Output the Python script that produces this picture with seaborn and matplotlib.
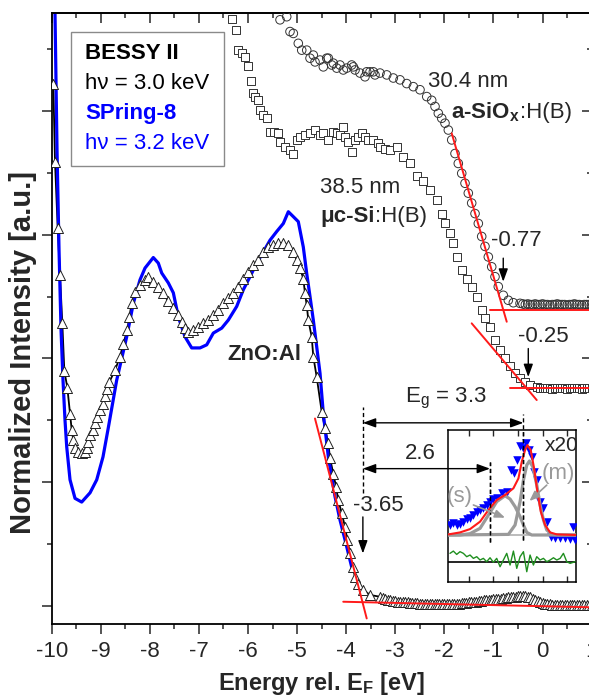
import numpy as np
import pandas as pd
import matplotlib
matplotlib.use("Agg")
import matplotlib.pyplot as plt
import seaborn as sns
from matplotlib.patches import Rectangle
from matplotlib.ticker import MultipleLocator, NullFormatter
from matplotlib.transforms import offset_copy

# ---------------- data ----------------
# SPring-8 ZnO:Al spectrum (blue line)
blue_x = [-9.95, -9.933, -9.892, -9.851, -9.810, -9.770, -9.729, -9.694, -9.627, -9.525, -9.389, -9.219,
          -9.083, -8.955, -8.847, -8.676, -8.472, -8.337, -8.201, -8.099, -7.930, -7.828, -7.759, -7.624,
          -7.522, -7.420, -7.284, -7.148, -6.978, -6.842, -6.707, -6.536, -6.402, -6.231, -6.096, -5.960,
          -5.823, -5.689, -5.552, -5.416, -5.281, -5.179, -5.077, -4.976, -4.874, -4.804, -4.737, -4.670,
          -4.601, -4.533, -4.466, -4.364, -4.228, -4.126, -4.024, -3.888]
blue_y = [10.0, 9.58, 7.37, 5.75, 4.46, 3.65, 3.00, 2.57, 2.04, 1.74, 1.68, 1.83,
          2.04, 2.41, 2.88, 3.65, 4.35, 4.89, 5.27, 5.46, 5.63, 5.54, 5.38, 5.22,
          5.06, 4.67, 4.35, 4.17, 4.17, 4.22, 4.41, 4.49, 4.62, 4.84, 5.11, 5.32,
          5.54, 5.72, 5.91, 6.05, 6.18, 6.37, 6.29, 6.21, 5.80, 5.37, 5.00, 4.62,
          4.19, 3.76, 3.11, 2.41, 1.77, 1.39, 1.07, 0.63]

# BESSY II ZnO:Al spectrum (open triangles)
tri_x = [-9.967, -9.933, -9.878, -9.831, -9.784, -9.743, -9.682, -9.627, -9.593, -9.560,
         -9.525, -9.458, -9.389, -9.322, -9.287, -9.254, -9.219, -9.165, -9.118, -9.071,
         -9.016, -8.961, -8.914, -8.879, -8.826, -8.710, -8.608, -8.541, -8.460, -8.419,
         -8.370, -8.303, -8.201, -8.099, -8.032, -7.930, -7.828, -7.726, -7.624, -7.522,
         -7.420, -7.351, -7.284, -7.217, -7.115, -7.013, -6.911, -6.809, -6.707, -6.606,
         -6.504, -6.402, -6.300, -6.198, -6.096, -5.994, -5.892, -5.791, -5.689, -5.587,
         -5.485, -5.383, -5.281, -5.179, -5.077, -5.008, -4.941, -4.874, -4.839, -4.804,
         -4.772, -4.703, -4.670, -4.601, -4.499, -4.432, -4.364, -4.330, -4.262, -4.207,
         -4.161, -4.091, -4.024, -3.977, -3.922, -3.867, -3.820, -3.753, -3.651, -3.515,
         -3.311]
tri_y = [8.43, 7.17, 6.11, 5.35, 4.57, 3.80, 3.53, 3.10, 2.85, 2.68,
         2.55, 2.49, 2.48, 2.49, 2.55, 2.65, 2.76, 2.84, 2.95, 3.06,
         3.17, 3.27, 3.39, 3.50, 3.62, 3.81, 4.03, 4.24, 4.46, 4.67,
         4.89, 5.08, 5.19, 5.27, 5.32, 5.24, 5.16, 5.05, 4.92, 4.81,
         4.70, 4.59, 4.49, 4.43, 4.46, 4.51, 4.57, 4.62, 4.70, 4.78,
         4.89, 4.97, 5.05, 5.16, 5.29, 5.40, 5.51, 5.59, 5.72, 5.80,
         5.83, 5.86, 5.87, 5.83, 5.72, 5.59, 5.46, 5.29, 5.05, 4.86,
         4.62, 4.35, 4.03, 3.70, 3.14, 2.87, 2.63, 2.39, 2.14, 1.93,
         1.71, 1.50, 1.28, 1.07, 0.85, 0.63, 0.47, 0.36, 0.26, 0.18,
         0.15]
tri_base_x = [-3.25, -3.20, -3.15, -3.10, -3.05, -3.00, -2.95, -2.90, -2.85, -2.80,
              -2.75, -2.70, -2.65, -2.60, -2.55, -2.50, -2.45, -2.40, -2.35, -2.30,
              -2.25, -2.20, -2.15, -2.10, -2.05, -2.00, -1.95, -1.90, -1.85, -1.80,
              -1.75, -1.70, -1.65, -1.60, -1.55, -1.50, -1.45, -1.40, -1.35, -1.30,
              -1.25, -1.20, -1.15, -1.10, -1.05, -1.00, -0.95, -0.90, -0.85, -0.80,
              -0.75, -0.70, -0.65, -0.60, -0.55, -0.50, -0.45, -0.40, -0.35, -0.30,
              -0.25, -0.20, -0.15, -0.10, -0.05, 0.00, 0.05, 0.10, 0.15, 0.20,
              0.25, 0.30, 0.35, 0.40, 0.45, 0.50, 0.55, 0.60, 0.65, 0.70,
              0.75, 0.80, 0.85, 0.90, 0.95, 1.00]
tri_base_y = [0.13, 0.11, 0.10, 0.09, 0.08, 0.08, 0.07, 0.07, 0.06, 0.06,
              0.06, 0.05, 0.05, 0.05, 0.05, 0.04, 0.04, 0.04, 0.04, 0.03,
              0.03, 0.03, 0.03, 0.03, 0.03, 0.03, 0.03, 0.03, 0.04, 0.04,
              0.04, 0.04, 0.05, 0.05, 0.05, 0.06, 0.06, 0.07, 0.07, 0.08,
              0.08, 0.09, 0.09, 0.10, 0.10, 0.11, 0.11, 0.12, 0.12, 0.13,
              0.13, 0.14, 0.14, 0.15, 0.15, 0.16, 0.16, 0.16, 0.16, 0.15,
              0.14, 0.12, 0.10, 0.08, 0.06, 0.05, 0.04, 0.03, 0.03, 0.02,
              0.02, 0.02, 0.02, 0.02, 0.02, 0.02, 0.02, 0.02, 0.02, 0.02,
              0.02, 0.02, 0.02, 0.02, 0.02, 0.02]

# muc-Si:H(B) 38.5 nm (open squares)
sq_x = [-6.333, -6.245, -6.198, -6.129, -6.062, -5.994, -5.945, -5.892, -5.858, -5.791,
        -5.756, -5.689, -5.607, -5.552, -5.471, -5.383, -5.348, -5.247, -5.145, -5.077,
        -5.008, -4.941, -4.839, -4.737, -4.635, -4.533, -4.466, -4.364, -4.262, -4.193,
        -4.126, -4.059, -4.024, -3.957, -3.888, -3.820, -3.753, -3.684, -3.617, -3.549,
        -3.447, -3.346, -3.311, -3.210, -3.107, -2.971, -2.836, -2.700, -2.563, -2.429, -2.292,
        -2.156, -2.054, -1.987, -1.885, -1.817, -1.748, -1.646, -1.544, -1.443, -1.341,
        -1.239, -1.172, -1.070, -0.968, -0.866, -0.764, -0.662, -0.560, -0.458, -0.356,
        -0.255, -0.118]
sq_y = [9.49, 9.31, 8.99, 8.93, 8.87, 8.72, 8.48, 8.28, 8.23, 8.17,
        8.01, 7.93, 7.88, 7.66, 7.65, 7.64, 7.50, 7.42, 7.37, 7.31,
        7.53, 7.58, 7.61, 7.64, 7.69, 7.61, 7.64, 7.53, 7.66, 7.64,
        7.61, 7.74, 7.58, 7.50, 7.34, 7.53, 7.58, 7.64, 7.58, 7.53,
        7.53, 7.48, 7.42, 7.39, 7.37, 7.42, 7.26, 7.15, 6.94, 6.86, 6.72,
        6.56, 6.34, 6.18, 6.02, 5.86, 5.64, 5.43, 5.29, 5.16, 5.00,
        4.78, 4.65, 4.51, 4.30, 4.14, 4.00, 3.87, 3.76, 3.68, 3.62,
        3.57, 3.54]
sq_base_x = [-0.05, 0.00, 0.05, 0.10, 0.15, 0.20, 0.25, 0.30, 0.35, 0.40, 0.45,
             0.50, 0.55, 0.60, 0.65, 0.70, 0.75, 0.80, 0.85, 0.90, 0.95, 1.00]
sq_base_y = [3.53, 3.52, 3.52, 3.53, 3.52, 3.51, 3.52, 3.52, 3.53, 3.52, 3.52,
             3.51, 3.52, 3.52, 3.53, 3.52, 3.52, 3.51, 3.52, 3.52, 3.52, 3.52]

# a-SiOx:H(B) 30.4 nm (open circles)
ci_x = [-5.348, -5.212, -5.145, -5.077, -4.976, -4.906, -4.804, -4.737, -4.670, -4.635,
        -4.533, -4.466, -4.397, -4.364, -4.295, -4.262, -4.193, -4.126, -4.059, -3.989,
        -3.888, -3.855, -3.820, -3.718, -3.617, -3.582, -3.515, -3.447, -3.413, -3.311,
        -3.174, -3.040, -2.903, -2.767, -2.632, -2.496, -2.359, -2.258, -2.190, -2.123,
        -2.054, -1.987, -1.919, -1.850, -1.783, -1.716, -1.646, -1.579, -1.512, -1.443,
        -1.375, -1.308, -1.239, -1.172, -1.104, -1.035, -0.968, -0.901, -0.799, -0.697,
        -0.595, -0.458]
ci_y = [9.47, 9.52, 9.28, 9.25, 9.09, 8.98, 8.98, 8.85, 8.90, 8.79,
        8.82, 8.71, 8.85, 8.85, 8.74, 8.77, 8.69, 8.74, 8.66, 8.69,
        8.74, 8.71, 8.66, 8.61, 8.55, 8.63, 8.63, 8.63, 8.58, 8.61,
        8.58, 8.53, 8.50, 8.44, 8.39, 8.34, 8.23, 8.17, 8.07, 7.96,
        7.88, 7.80, 7.69, 7.53, 7.31, 7.15, 6.99, 6.83, 6.67, 6.51,
        6.34, 6.18, 5.97, 5.81, 5.64, 5.48, 5.32, 5.16, 5.02, 4.94,
        4.90, 4.89]
ci_base_x = [-0.40, -0.35, -0.30, -0.25, -0.20, -0.15, -0.10, -0.05, 0.00, 0.05,
             0.10, 0.15, 0.20, 0.25, 0.30, 0.35, 0.40, 0.45, 0.50, 0.55,
             0.60, 0.65, 0.70, 0.75, 0.80, 0.85, 0.90, 0.95, 1.00]
ci_base_y = [4.88, 4.87, 4.88, 4.87, 4.87, 4.88, 4.87, 4.87, 4.88, 4.87,
             4.87, 4.86, 4.87, 4.87, 4.88, 4.87, 4.87, 4.87, 4.86, 4.87,
             4.87, 4.88, 4.87, 4.87, 4.86, 4.87, 4.87, 4.87, 4.87]

# linear extrapolation lines (red): [x_start, x_end], [y_start, y_end]
zno_edge_x, zno_edge_y = [-4.636, -3.582], [3.03, -0.20]
zno_bg_x, zno_bg_y = [-4.06, 1.0], [0.07, -0.02]
asi_edge_x, asi_edge_y = [-1.850, -0.729], [7.636, 4.593]
asi_bg_x, asi_bg_y = [-1.07, 1.0], [4.79, 4.79]
mcs_edge_x, mcs_edge_y = [-1.443, -0.118], [4.567, 3.328]
mcs_bg_x, mcs_bg_y = [-0.66, 1.0], [3.52, 3.52]

# onsets / gaps
onset_labels = ["-0.77", "-0.25", "-3.65"]
eg_value = 3.3
gap2_value = 2.6

# inset (x20 magnified gap states)
ins_data_x = [-1.884, -1.816, -1.748, -1.681, -1.613, -1.545, -1.477, -1.409, -1.341, -1.273,
              -1.205, -1.137, -1.069, -1.001, -0.933, -0.832, -0.730, -0.648, -0.580, -0.512,
              -0.458, -0.390, -0.336, -0.281, -0.220, -0.166, -0.105, -0.051, 0.018, 0.085,
              0.167, 0.255, 0.357, 0.459, 0.561, 0.629, 0.663]
ins_data_y = [3.74, 3.85, 3.74, 3.78, 3.96, 4.11, 4.22, 4.40, 4.57, 4.73,
              4.88, 5.06, 5.23, 5.45, 5.54, 5.83, 5.94, 7.36, 7.14, 8.02,
              8.97, 8.79, 9.12, 8.68, 8.24, 7.25, 6.70, 5.28, 4.84, 3.96,
              2.97, 2.86, 2.90, 2.86, 2.81, 3.63, 2.75]
ins_fit_x = [-1.918, -1.681, -1.477, -1.273, -1.103, -0.933, -0.764, -0.594, -0.492, -0.424,
             -0.356, -0.309, -0.241, -0.173, -0.105, -0.037, 0.051, 0.153, 0.289, 0.683]
ins_fit_y = [3.12, 3.25, 3.47, 3.96, 4.73, 5.39, 5.72, 6.16, 6.81, 7.91,
             8.68, 9.01, 8.68, 7.47, 5.94, 4.62, 3.74, 3.25, 3.12, 3.08]
ins_s_x = [-1.918, -1.681, -1.477, -1.273, -1.069, -0.933, -0.764, -0.662, -0.560, -0.458,
           -0.390, -0.322, -0.220, 0.683]
ins_s_y = [3.08, 3.08, 3.17, 3.52, 4.57, 5.28, 5.67, 5.45, 4.95, 4.29,
           3.74, 3.25, 3.08, 3.08]
ins_m_x = [-1.918, -0.696, -0.560, -0.458, -0.390, -0.322, -0.268, -0.200, -0.118, -0.051,
           0.018, 0.085, 0.187, 0.323, 0.683]
ins_m_y = [3.08, 3.12, 3.74, 5.28, 6.70, 7.69, 7.96, 7.58, 6.37, 5.06,
           4.07, 3.41, 3.12, 3.08, 3.08]
ins_res_x = [-1.885, -1.817, -1.749, -1.681, -1.613, -1.545, -1.477, -1.409, -1.341, -1.273,
             -1.206, -1.138, -1.070, -1.002, -0.934, -0.866, -0.798, -0.730, -0.662, -0.594,
             -0.526, -0.458, -0.390, -0.322, -0.255, -0.187, -0.119, -0.051, 0.017, 0.085,
             0.153, 0.221, 0.289, 0.357, 0.424, 0.492, 0.560, 0.662]
ins_res_y = [1.87, 2.02, 1.80, 1.98, 1.87, 1.65, 1.76, 1.54, 1.65, 1.43,
             1.54, 1.32, 1.58, 1.28, 1.54, 0.99, 1.43, 1.87, 1.10, 2.02,
             0.88, 1.65, 1.98, 0.66, 1.76, 1.10, 1.65, 1.43, 1.54, 1.32,
             1.43, 1.58, 1.43, 1.54, 1.87, 1.32, 1.21, 1.32]
ins_zero_y = 1.32
ins_base_y = 3.08
s_pos, m_pos = -1.07, -0.39
onset_zno = -3.66

x_ticks = list(range(-10, 2))

# ---------------- style ----------------
sns.set_theme(style="ticks")
plt.rcParams["font.family"] = ["Liberation Sans", "DejaVu Sans"]
plt.rcParams["mathtext.fontset"] = "custom"
plt.rcParams["mathtext.rm"] = "Liberation Sans"
plt.rcParams["mathtext.bf"] = "Liberation Sans:bold"
plt.rcParams["mathtext.it"] = "Liberation Sans:italic"
plt.rcParams["axes.unicode_minus"] = False

FS = 16
BLUE = "#0000ff"
RED = "#ff1a1a"
GRAY = "#9a9a9a"

fig = plt.figure(figsize=(5.89, 6.97), dpi=100)
ax = fig.add_axes([0.0878, 0.1047, 0.9166, 0.8762])
ax.set_facecolor("white")

# ---- series ----
df_blue = pd.DataFrame({"E": blue_x, "I": blue_y})
df_tri = pd.DataFrame({"E": tri_x + tri_base_x, "I": tri_y + tri_base_y})
df_sq = pd.DataFrame({"E": sq_x + sq_base_x, "I": sq_y + sq_base_y})
df_ci = pd.DataFrame({"E": ci_x + ci_base_x, "I": ci_y + ci_base_y})

sns.lineplot(data=df_tri, x="E", y="I", ax=ax, color="black", lw=1.3, sort=False,
             estimator=None, zorder=2)
sns.lineplot(data=df_blue, x="E", y="I", ax=ax, color=BLUE, lw=2.3, sort=False,
             estimator=None, zorder=2.5)
sns.scatterplot(data=df_tri, x="E", y="I", ax=ax, marker="^", s=52, color="white",
                edgecolor="#222222", linewidth=0.7, zorder=3)
sns.scatterplot(data=df_sq, x="E", y="I", ax=ax, marker="s", s=30, color="white",
                edgecolor="#333333", linewidth=0.7, zorder=3)
sns.scatterplot(data=df_ci, x="E", y="I", ax=ax, marker="o", s=38, color="none",
                edgecolor="#333333", linewidth=0.7, zorder=3)

for lx, ly in [(zno_edge_x, zno_edge_y), (zno_bg_x, zno_bg_y), (asi_edge_x, asi_edge_y),
               (asi_bg_x, asi_bg_y), (mcs_edge_x, mcs_edge_y), (mcs_bg_x, mcs_bg_y)]:
    sns.lineplot(x=lx, y=ly, ax=ax, color=RED, lw=1.4, sort=False, estimator=None, zorder=4)

# ---- axes ----
ax.set_xlim(-10, 1.0)
ax.set_ylim(-0.29, 9.575)
ax.set_xticks(x_ticks)
ax.set_xticklabels([str(t) for t in x_ticks])
ax.xaxis.set_minor_locator(MultipleLocator(0.5))
ax.yaxis.set_major_locator(MultipleLocator(2))
ax.yaxis.set_minor_locator(MultipleLocator(1))
ax.yaxis.set_major_formatter(NullFormatter())
ax.tick_params(axis="x", which="major", direction="out", length=7, width=1.1,
               labelsize=FS, pad=5, top=False)
ax.tick_params(axis="x", which="minor", direction="out", length=3.5, width=1.1, top=False)
ax.tick_params(axis="y", which="major", direction="out", length=7, width=1.1, right=False)
ax.tick_params(axis="y", which="minor", direction="out", length=3.5, width=1.1, right=False)
for sp in ax.spines.values():
    sp.set_linewidth(1.3)
    sp.set_color("black")
    sp.set_visible(True)

secx = ax.secondary_xaxis("top")
secx.set_xticks(x_ticks)
secx.xaxis.set_minor_locator(MultipleLocator(0.5))
secx.tick_params(axis="x", which="major", direction="in", length=7, width=1.1, labeltop=False)
secx.tick_params(axis="x", which="minor", direction="in", length=3.5, width=1.1)
secx.spines["top"].set_linewidth(1.3)
secy = ax.secondary_yaxis("right")
secy.yaxis.set_major_locator(MultipleLocator(2))
secy.yaxis.set_minor_locator(MultipleLocator(1))
secy.tick_params(axis="y", which="major", direction="in", length=7, width=1.1, labelright=False)
secy.tick_params(axis="y", which="minor", direction="in", length=3.5, width=1.1)

ax.set_xlabel(r"Energy rel. E$_\mathbf{F}$ [eV]", fontsize=17, fontweight="bold", va="center")
ax.xaxis.set_label_coords(0.5, -0.0966)
ax.set_ylabel("Normalized Intensity [a.u.]", fontsize=21, fontweight="bold", va="center")
ax.yaxis.set_label_coords(-0.0535, 0.445)

# ---- legend-like box ----
ax.add_patch(Rectangle((0.0352, 0.7505), 0.2838, 0.2185, transform=ax.transAxes,
                       facecolor="white", edgecolor="#8a8a8a", lw=1.0, zorder=5))
for ty, s, col, wt in [(0.9345, "BESSY II", "black", "bold"),
                       (0.8854, "h\u03bd = 3.0 keV", "black", "normal"),
                       (0.8363, "SPring-8", BLUE, "bold"),
                       (0.7871, "h\u03bd = 3.2 keV", BLUE, "normal")]:
    ax.text(0.0617, ty, s, transform=ax.transAxes, fontsize=FS, color=col,
            fontweight=wt, ha="left", va="center", zorder=6)


# ---- rich (mixed-weight) labels ----
def rich_text(axis, x, y, parts, fontsize, ha="left"):
    renderer = fig.canvas.get_renderer()
    texts, widths = [], []
    for s, kw in parts:
        t = axis.text(x, y, s, fontsize=fontsize, ha="left", va="baseline", zorder=6, **kw)
        texts.append(t)
        widths.append(t.get_window_extent(renderer=renderer).width)
    cum = 0.0 if ha == "left" else -sum(widths) / 2.0
    for t, w in zip(texts, widths):
        t.set_transform(offset_copy(axis.transData, fig=fig, x=cum, y=0, units="dots"))
        cum += w


ax.text(-1.51, 8.47, "30.4 nm", fontsize=FS, ha="center", va="center")
rich_text(ax, -0.63, 7.88, [(r"a-SiO$_\mathbf{x}$", dict(fontweight="bold")), (":H(B)", {})],
          FS, ha="center")
ax.text(-4.53, 6.76, "38.5 nm", fontsize=FS, ha="left", va="center")
rich_text(ax, -4.53, 6.21, [("\u03bcc-Si", dict(fontweight="bold")), (":H(B)", {})], FS)
ax.text(-5.67, 4.07, "ZnO:Al", fontsize=FS, fontweight="bold", ha="center", va="center")

# onset arrows
arrow_kw = dict(arrowstyle="-|>,head_length=0.55,head_width=0.2", color="black", lw=1.0,
                shrinkA=0, shrinkB=0, mutation_scale=14)
ax.text(-0.53, 5.91, onset_labels[0], fontsize=FS, ha="center", va="center")
ax.annotate("", xy=(-0.80, 5.24), xytext=(-0.80, 5.62), arrowprops=arrow_kw)
ax.text(0.02, 4.35, onset_labels[1], fontsize=FS, ha="center", va="center")
ax.annotate("", xy=(-0.29, 3.70), xytext=(-0.29, 4.16), arrowprops=arrow_kw)
ax.text(-3.35, 1.62, onset_labels[2], fontsize=FS, ha="center", va="center")
ax.annotate("", xy=(onset_zno, 0.85), xytext=(onset_zno, 1.44), arrowprops=arrow_kw)

# gap arrows and dashed markers
dash = (0, (3, 2))
ax.plot([onset_zno, onset_zno], [1.82, 3.22], color="black", lw=1.0, ls=dash, zorder=4)
ax.plot([s_pos, s_pos], [1.04, 2.33], color="black", lw=1.0, ls=dash, zorder=4)
ax.plot([m_pos, m_pos], [1.07, 3.11], color="black", lw=1.0, ls=dash, zorder=4)
dbl_kw = dict(arrow_kw)
dbl_kw["arrowstyle"] = "<|-|>,head_length=0.55,head_width=0.2"
ax.annotate("", xy=(m_pos, 2.96), xytext=(onset_zno, 2.96), arrowprops=dbl_kw)
ax.annotate("", xy=(s_pos, 2.22), xytext=(onset_zno, 2.22), arrowprops=dbl_kw)
ax.text(-1.98, 3.36, r"E$_\mathrm{g}$ = %.1f" % eg_value, fontsize=FS, ha="center", va="center")
ax.text(-2.48, 2.46, "%.1f" % gap2_value, fontsize=FS, ha="center", va="center")

# ---------------- inset ----------------
ins = fig.add_axes([0.7611, 0.1654, 0.2168, 0.2176])
ins.set_facecolor("none")
ins.set_xlim(-1.92, 0.68)
ins.set_ylim(0, 10)
ins.set_xticks([-1.5, -1.0, -0.5, 0.0, 0.5])
ins.set_yticks([])
ins.tick_params(axis="x", direction="in", length=4.5, width=1.0, top=True, bottom=True,
                labelbottom=False)
for sp in ins.spines.values():
    sp.set_linewidth(1.1)
    sp.set_color("black")
    sp.set_visible(True)
ins.set_xlabel("")
ins.set_ylabel("")

ins.axhline(ins_zero_y, color="black", lw=1.2, zorder=2)
ins.axhline(ins_base_y, color="#b0b0b0", lw=1.2, zorder=2)
sns.lineplot(x=ins_res_x, y=ins_res_y, ax=ins, color="#1f8f1f", lw=1.0, sort=False,
             estimator=None, zorder=3)
sns.scatterplot(x=ins_data_x, y=ins_data_y, ax=ins, marker="v", s=38, color=BLUE,
                linewidth=0, zorder=3)
sns.lineplot(x=ins_s_x, y=ins_s_y, ax=ins, color=GRAY, lw=2.3, sort=False, estimator=None, zorder=4)
sns.lineplot(x=ins_m_x, y=ins_m_y, ax=ins, color=GRAY, lw=2.3, sort=False, estimator=None, zorder=4)
sns.lineplot(x=ins_fit_x, y=ins_fit_y, ax=ins, color=RED, lw=1.5, sort=False, estimator=None, zorder=5)
ins.plot([s_pos, s_pos], [2.64, 7.91], color="black", lw=1.0, ls=dash, zorder=6)
ins.plot([m_pos, m_pos], [2.75, 10.0], color="black", lw=1.0, ls=dash, zorder=6)
ins.text(0.391, 9.01, "x20", fontsize=15, ha="center", va="center", zorder=7)
ins.text(-1.681, 5.60, "(s)", fontsize=FS, color=GRAY, ha="center", va="center", zorder=7)
ins.text(0.322, 7.15, "(m)", fontsize=FS, color=GRAY, ha="center", va="center", zorder=7)
gkw = dict(arrowstyle="-|>,head_length=0.5,head_width=0.2", color=GRAY, lw=1.2,
           shrinkA=0, shrinkB=0, mutation_scale=12)
ins.annotate("", xy=(-0.764, 4.22), xytext=(-1.409, 5.06), arrowprops=gkw, zorder=7)
ins.annotate("", xy=(-0.268, 5.32), xytext=(0.085, 6.37), arrowprops=gkw, zorder=7)

fig.savefig("out.png", dpi=100)
